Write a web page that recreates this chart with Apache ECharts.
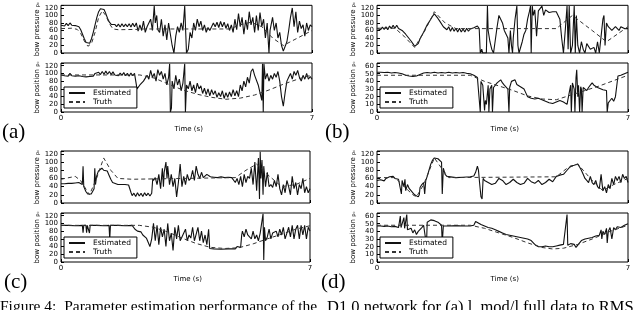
<!DOCTYPE html>
<html><head><meta charset="utf-8">
<script src="https://cdn.jsdelivr.net/npm/echarts@6/dist/echarts.min.js"></script>
<style>html,body{margin:0;padding:0;background:#fff}#c{width:640px;height:310px}</style>
</head><body><div id="c"></div>
<script>
// ---------- data: [time (s), value] ----------
const panelLabels = ['(a)', '(b)', '(c)', '(d)'];
const seriesNames = ['Estimated', 'Truth'];
const timeTicks = [0, 7];
const pressureTicks = [0, 20, 40, 60, 80, 100, 120];
const positionTicksWide = [0, 20, 40, 60, 80, 100, 120];
const positionTicksNarrow = [0, 10, 20, 30, 40, 50, 60];

// (a)
const aPress = [[0,74],[0.05,78],[0.1,72],[0.15,79],[0.2,73],[0.25,80],[0.3,74],[0.35,79],[0.4,73],[0.45,77],[0.5,70],[0.55,62],[0.6,50],[0.65,38],[0.7,28],[0.75,23],[0.8,26],[0.85,38],[0.9,55],[0.95,75],[1.0,95],[1.05,110],[1.1,118],[1.15,120],[1.2,116],[1.25,105],[1.3,92],[1.35,82],[1.4,76],[1.45,72],[1.5,76],[1.55,70],[1.6,77],[1.65,69],[1.7,78],[1.75,70],[1.8,77],[1.85,70],[1.9,78],[1.95,69],[2.0,79],[2.05,70],[2.1,80],[2.15,58],[2.2,75],[2.25,60],[2.3,85],[2.35,55],[2.4,70],[2.45,65],[2.5,90],[2.55,60],[2.6,125],[2.63,80],[2.67,100],[2.7,62],[2.75,55],[2.8,90],[2.85,45],[2.9,75],[2.95,35],[3.0,80],[3.05,50],[3.1,20],[3.15,0],[3.2,45],[3.25,70],[3.3,55],[3.35,80],[3.4,60],[3.45,125],[3.48,125],[3.5,0],[3.55,10],[3.6,55],[3.65,40],[3.7,80],[3.75,60],[3.8,90],[3.85,70],[3.9,85],[3.95,60],[4.0,75],[4.05,55],[4.1,68],[4.15,60],[4.2,70],[4.25,80],[4.3,70],[4.35,82],[4.4,68],[4.45,84],[4.5,70],[4.55,82],[4.6,66],[4.65,78],[4.7,60],[4.75,75],[4.8,55],[4.85,90],[4.9,62],[4.95,105],[5.0,70],[5.05,95],[5.1,50],[5.15,88],[5.2,62],[5.25,110],[5.3,75],[5.35,95],[5.4,55],[5.45,100],[5.5,60],[5.55,108],[5.6,70],[5.65,90],[5.7,40],[5.75,80],[5.8,0],[5.83,60],[5.9,95],[5.95,60],[6.0,80],[6.05,40],[6.1,55],[6.15,20],[6.2,5],[6.25,0],[6.3,30],[6.35,60],[6.4,95],[6.45,120],[6.5,70],[6.55,110],[6.6,55],[6.65,85],[6.7,65],[6.75,75],[6.8,45],[6.85,80],[6.9,60],[6.95,75],[7,70]];
const aPressTruth = [[0,65],[0.3,66],[0.45,63],[0.55,52],[0.65,32],[0.75,18],[0.85,25],[0.95,55],[1.05,95],[1.15,112],[1.25,100],[1.35,78],[1.45,64],[1.6,62],[2.2,63],[2.3,64],[4.7,64],[5.0,75],[5.3,82],[5.6,70],[5.9,40],[6.2,20],[6.5,35],[7,60]];
const aPos = [[0,96],[0.05,100],[0.1,94],[0.15,99],[0.2,93],[0.25,100],[0.3,94],[0.35,99],[0.4,93],[0.45,98],[0.5,94],[0.55,97],[0.6,92],[0.65,96],[0.7,91],[0.75,95],[0.8,92],[0.85,97],[0.9,93],[0.95,100],[1.0,95],[1.05,103],[1.1,97],[1.15,105],[1.2,98],[1.25,106],[1.3,98],[1.35,105],[1.4,97],[1.45,104],[1.5,96],[1.55,101],[1.6,94],[1.65,101],[1.7,95],[1.75,102],[1.8,94],[1.85,100],[1.9,93],[1.95,101],[2.0,94],[2.05,100],[2.1,95],[2.12,60],[2.2,70],[2.3,80],[2.35,75],[2.4,95],[2.45,85],[2.5,108],[2.55,90],[2.6,100],[2.65,80],[2.7,110],[2.75,95],[2.8,105],[2.85,85],[2.9,100],[2.95,70],[3.0,90],[3.03,125],[3.05,0],[3.08,10],[3.1,80],[3.15,60],[3.2,95],[3.25,70],[3.3,85],[3.35,55],[3.4,75],[3.45,125],[3.47,0],[3.5,70],[3.55,60],[3.6,80],[3.65,55],[3.7,70],[3.75,50],[3.8,75],[3.85,60],[3.9,68],[3.95,48],[4.0,62],[4.05,45],[4.1,60],[4.15,42],[4.2,58],[4.25,45],[4.3,55],[4.35,38],[4.4,50],[4.45,40],[4.5,55],[4.55,35],[4.6,50],[4.65,38],[4.7,52],[4.75,40],[4.8,58],[4.85,42],[4.9,55],[4.95,40],[5.0,70],[5.05,55],[5.1,80],[5.15,65],[5.2,90],[5.25,75],[5.3,105],[5.35,112],[5.4,95],[5.45,100],[5.5,70],[5.55,50],[5.6,30],[5.62,125],[5.64,0],[5.66,125],[5.7,85],[5.75,100],[5.8,80],[5.85,95],[5.9,85],[5.95,100],[6.0,90],[6.05,105],[6.1,80],[6.15,40],[6.2,15],[6.25,50],[6.3,80],[6.35,90],[6.4,100],[6.45,85],[6.5,105],[6.55,95],[6.6,108],[6.65,90],[6.7,80],[6.75,95],[6.8,85],[6.85,100],[6.9,85],[6.95,92],[7,85]];
const aPosTruth = [[0,96],[2.2,96],[2.6,88],[3.0,72],[3.4,57],[3.8,46],[4.2,38],[4.6,33],[5.0,36],[5.4,44],[5.8,57],[6.2,72],[6.6,85],[7,96]];

// (b)
const bPress = [[0,65],[0.05,70],[0.1,62],[0.15,69],[0.2,63],[0.25,70],[0.3,62],[0.35,72],[0.4,65],[0.45,74],[0.5,66],[0.55,74],[0.6,65],[0.65,70],[0.7,60],[0.75,58],[0.8,50],[0.85,45],[0.9,38],[0.95,32],[1.0,25],[1.05,18],[1.08,15],[1.15,25],[1.2,38],[1.3,55],[1.4,75],[1.5,90],[1.55,98],[1.6,104],[1.65,100],[1.7,92],[1.75,85],[1.8,80],[1.85,70],[1.9,75],[1.95,62],[2.0,70],[2.05,58],[2.1,68],[2.15,58],[2.2,66],[2.25,56],[2.3,66],[2.35,56],[2.4,64],[2.45,56],[2.5,66],[2.55,58],[2.6,64],[2.65,60],[2.7,67],[2.75,65],[2.8,72],[2.85,65],[2.88,0],[2.92,10],[2.95,0],[3.0,5],[3.05,0],[3.08,125],[3.1,60],[3.15,30],[3.2,10],[3.25,0],[3.3,5],[3.35,70],[3.4,100],[3.45,90],[3.5,80],[3.55,60],[3.6,62],[3.65,40],[3.68,0],[3.72,60],[3.75,20],[3.78,0],[3.8,40],[3.85,90],[3.9,125],[3.93,20],[3.96,0],[4.0,0],[4.05,30],[4.1,50],[4.15,60],[4.2,90],[4.25,110],[4.28,125],[4.3,0],[4.33,125],[4.36,100],[4.4,115],[4.45,45],[4.5,112],[4.55,108],[4.6,125],[4.65,100],[4.7,115],[4.75,110],[4.8,108],[4.85,106],[4.9,110],[4.95,105],[5.0,110],[5.05,100],[5.1,90],[5.15,40],[5.2,0],[5.25,60],[5.3,125],[5.33,10],[5.36,125],[5.4,0],[5.45,20],[5.5,125],[5.53,0],[5.56,100],[5.6,20],[5.65,0],[5.7,30],[5.75,10],[5.8,0],[5.85,25],[5.9,20],[5.95,10],[6.0,5],[6.05,15],[6.1,0],[6.15,30],[6.2,0],[6.25,45],[6.3,90],[6.33,100],[6.36,20],[6.4,80],[6.45,70],[6.5,65],[6.55,60],[6.6,55],[6.65,70],[6.7,75],[6.75,60],[6.8,70],[6.85,75],[6.9,65],[6.95,70],[7,65]];
const bPressTruth = [[0,66],[0.5,66],[0.75,45],[1.05,15],[1.35,62],[1.6,110],[1.9,80],[2.2,65],[5.0,65],[5.45,100],[6.0,60],[6.4,30],[6.7,50],[7,70]];
const bPos = [[0,52],[0.1,52],[0.2,51.5],[0.3,52],[0.4,51],[0.5,51.5],[0.6,51],[0.7,50],[0.8,48],[0.9,47],[1.0,46.5],[1.1,47],[1.2,49],[1.3,51],[1.4,51.5],[1.5,51],[1.6,52],[1.7,51],[1.8,51.5],[1.9,51],[2.0,52],[2.1,51],[2.2,51.5],[2.3,51],[2.4,51.5],[2.5,50.5],[2.6,50],[2.7,48],[2.8,45],[2.85,43],[2.88,0],[2.9,40],[2.95,35],[3.0,2],[3.02,15],[3.05,10],[3.1,35],[3.12,0],[3.15,30],[3.2,35],[3.22,0],[3.25,32],[3.3,35],[3.35,38],[3.4,40],[3.45,42],[3.5,38],[3.55,35],[3.6,33],[3.65,30],[3.68,0],[3.7,32],[3.75,40],[3.8,38],[3.85,42],[3.9,36],[3.95,38],[4.0,33],[4.05,35],[4.1,30],[4.15,25],[4.2,20],[4.3,18],[4.4,17],[4.5,18],[4.6,16],[4.7,14],[4.8,12],[4.9,11],[5.0,13],[5.1,15],[5.2,13],[5.3,10],[5.35,12],[5.4,35],[5.42,0],[5.45,38],[5.5,30],[5.52,0],[5.55,45],[5.57,55],[5.6,20],[5.62,35],[5.65,0],[5.68,33],[5.7,30],[5.72,0],[5.75,32],[5.8,30],[5.85,28],[5.9,32],[5.95,35],[6.0,38],[6.05,35],[6.1,34],[6.15,32],[6.2,30],[6.3,29],[6.4,28],[6.42,0],[6.45,12],[6.5,15],[6.55,18],[6.6,14],[6.65,20],[6.7,18],[6.72,47],[6.8,48],[6.9,50],[7,52]];
const bPosTruth = [[0,48],[2.6,48],[3.0,40],[3.4,34],[3.8,28],[4.2,21],[4.6,17],[5.0,16],[5.4,22],[5.8,28],[6.2,34],[6.6,41],[7,48]];

// (c)
const cPress = [[0,47],[0.1,47],[0.2,48],[0.3,48],[0.4,49],[0.5,50],[0.55,48],[0.6,45],[0.62,90],[0.64,40],[0.7,28],[0.75,22],[0.8,18],[0.85,22],[0.93,35],[0.95,85],[0.97,45],[1.0,65],[1.05,78],[1.1,82],[1.15,85],[1.2,80],[1.25,84],[1.3,78],[1.35,68],[1.4,58],[1.45,50],[1.5,46],[1.6,45],[1.7,45],[1.8,45],[1.9,44],[1.95,45],[1.97,25],[2.0,18],[2.05,24],[2.1,16],[2.15,25],[2.2,17],[2.25,24],[2.3,16],[2.35,25],[2.4,18],[2.45,24],[2.5,17],[2.55,24],[2.58,60],[2.6,55],[2.65,62],[2.7,45],[2.75,70],[2.8,35],[2.85,85],[2.88,40],[2.9,75],[2.95,100],[2.98,60],[3.0,90],[3.05,45],[3.1,70],[3.15,40],[3.2,60],[3.25,15],[3.3,50],[3.35,95],[3.4,40],[3.45,65],[3.5,45],[3.55,70],[3.6,55],[3.65,60],[3.7,80],[3.75,55],[3.8,90],[3.85,70],[3.9,60],[3.95,75],[4.0,62],[4.05,65],[4.1,70],[4.2,64],[4.3,63],[4.4,62],[4.5,64],[4.6,62],[4.7,63],[4.8,62],[4.85,65],[4.9,50],[4.95,60],[5.0,45],[5.05,65],[5.1,40],[5.15,70],[5.2,50],[5.25,65],[5.3,60],[5.35,85],[5.4,45],[5.45,100],[5.5,30],[5.55,110],[5.58,10],[5.6,125],[5.62,60],[5.65,105],[5.68,20],[5.7,90],[5.75,40],[5.8,75],[5.85,40],[5.9,45],[5.95,38],[6.0,55],[6.05,40],[6.1,70],[6.15,35],[6.2,20],[6.25,45],[6.3,25],[6.35,55],[6.4,40],[6.45,20],[6.5,65],[6.55,35],[6.6,50],[6.65,20],[6.7,45],[6.75,35],[6.8,60],[6.85,25],[6.9,40],[6.95,25],[7,35]];
const cPressTruth = [[0,58],[0.4,65],[0.55,55],[0.8,20],[1.0,60],[1.2,110],[1.4,80],[1.6,60],[2.0,58],[4.9,62],[5.2,80],[5.5,95],[5.8,70],[6.2,40],[6.6,45],[7,60]];
const cPos = [[0,95],[0.2,95],[0.4,94],[0.6,95],[0.62,76],[0.64,95],[0.7,95],[0.72,76],[0.74,95],[0.78,95],[0.8,75],[0.82,95],[1.0,95],[1.2,94],[1.35,95],[1.37,60],[1.39,95],[1.6,95],[1.8,94],[2.0,95],[2.05,94],[2.08,85],[2.1,82],[2.15,80],[2.2,75],[2.25,78],[2.3,70],[2.35,72],[2.4,62],[2.45,65],[2.5,40],[2.55,60],[2.6,100],[2.65,55],[2.7,95],[2.75,45],[2.8,90],[2.85,65],[2.9,85],[2.95,40],[3.0,100],[3.05,55],[3.1,75],[3.15,30],[3.2,90],[3.25,60],[3.3,95],[3.35,55],[3.4,65],[3.45,60],[3.5,85],[3.55,55],[3.6,70],[3.65,62],[3.7,90],[3.75,55],[3.8,60],[3.85,90],[3.9,55],[3.95,80],[4.0,50],[4.05,70],[4.1,45],[4.15,85],[4.18,35],[4.3,34],[4.5,33],[4.7,34],[4.9,34],[4.95,40],[5.0,42],[5.05,38],[5.08,70],[5.1,80],[5.15,65],[5.2,85],[5.25,70],[5.3,75],[5.35,60],[5.4,80],[5.45,60],[5.5,70],[5.55,55],[5.6,75],[5.68,125],[5.7,5],[5.72,90],[5.75,55],[5.8,65],[5.85,85],[5.9,60],[5.95,75],[6.0,70],[6.05,80],[6.1,65],[6.15,85],[6.2,70],[6.25,90],[6.3,60],[6.35,75],[6.4,90],[6.45,65],[6.5,95],[6.55,60],[6.6,85],[6.65,95],[6.7,60],[6.75,95],[6.8,70],[6.85,95],[6.9,60],[6.95,90],[7,80]];
const cPosTruth = [[0,95],[2.2,95],[2.6,90],[3.0,78],[3.4,62],[3.8,48],[4.2,38],[4.6,35],[5.0,37],[5.4,47],[5.8,60],[6.2,72],[6.6,85],[7,94]];

// (d)
const dPress = [[0,55],[0.1,57],[0.2,54],[0.25,60],[0.3,58],[0.35,64],[0.4,62],[0.45,65],[0.5,60],[0.55,62],[0.6,58],[0.65,60],[0.68,22],[0.7,55],[0.75,40],[0.78,58],[0.8,30],[0.85,45],[0.9,35],[0.95,30],[1.0,25],[1.05,20],[1.1,16],[1.15,15],[1.18,20],[1.2,38],[1.25,45],[1.3,50],[1.33,22],[1.36,55],[1.4,65],[1.45,80],[1.5,95],[1.55,105],[1.6,110],[1.65,110],[1.7,108],[1.75,105],[1.8,100],[1.82,22],[1.85,85],[1.9,70],[1.95,65],[2.0,62],[2.2,62],[2.4,63],[2.6,64],[2.7,66],[2.75,75],[2.8,90],[2.83,80],[2.86,50],[2.9,15],[2.93,10],[2.96,60],[3.0,55],[3.1,50],[3.2,45],[3.3,48],[3.4,60],[3.5,55],[3.6,45],[3.7,50],[3.8,58],[3.9,50],[4.0,45],[4.1,48],[4.2,60],[4.3,52],[4.4,48],[4.5,55],[4.6,45],[4.7,50],[4.8,58],[4.9,52],[5.0,65],[5.1,68],[5.2,70],[5.3,80],[5.4,90],[5.5,92],[5.6,95],[5.65,88],[5.7,80],[5.75,70],[5.8,60],[5.85,55],[5.9,50],[5.95,65],[6.0,50],[6.05,45],[6.1,55],[6.15,40],[6.2,35],[6.25,70],[6.28,45],[6.3,30],[6.35,40],[6.4,25],[6.45,45],[6.5,35],[6.55,60],[6.6,45],[6.65,65],[6.7,55],[6.75,65],[6.8,50],[6.85,70],[6.9,60],[6.95,65],[7,50]];
const dPressTruth = [[0,62],[0.5,62],[0.7,45],[1.0,20],[1.1,15],[1.3,45],[1.6,110],[1.8,85],[2.0,62],[5.0,64],[5.3,85],[5.6,95],[6.0,55],[6.3,30],[6.6,45],[7,60]];
const dPos = [[0,47],[0.1,47],[0.2,46.5],[0.3,47],[0.4,46],[0.5,46.5],[0.6,45],[0.65,60],[0.67,45],[0.7,44],[0.75,58],[0.77,44],[0.8,43],[0.83,62],[0.85,42],[0.9,40],[0.95,44],[1.0,38],[1.05,42],[1.1,36],[1.15,40],[1.2,42],[1.25,45],[1.3,48],[1.35,50],[1.38,22],[1.4,52],[1.45,54],[1.5,55],[1.55,54.5],[1.6,54],[1.65,53],[1.7,52],[1.75,50],[1.8,48],[1.82,25],[1.85,47],[1.9,47],[2.0,47],[2.2,47.5],[2.4,47],[2.6,47],[2.7,48],[2.75,53],[2.8,52],[2.9,49],[3.0,47],[3.1,45],[3.2,44],[3.3,42],[3.4,40],[3.5,38],[3.6,36],[3.7,35],[3.8,34],[3.9,33],[4.0,32],[4.1,31],[4.2,30],[4.3,28],[4.4,23],[4.5,20],[4.6,20],[4.7,21],[4.8,20],[4.9,20],[5.0,21],[5.1,22],[5.2,23],[5.25,22],[5.3,62],[5.32,22],[5.4,24],[5.5,23],[5.55,19],[5.6,22],[5.7,28],[5.8,30],[5.9,31],[6.0,32],[6.1,34],[6.2,35],[6.25,42],[6.27,30],[6.3,40],[6.35,36],[6.4,44],[6.42,25],[6.45,40],[6.5,45],[6.55,30],[6.6,45],[6.65,42],[6.7,46],[6.8,45],[6.9,48],[7,50]];
const dPosTruth = [[0,48],[2.6,48],[3.0,44],[3.4,38],[3.8,32],[4.2,25],[4.6,19],[4.9,17],[5.2,18],[5.6,23],[6.0,30],[6.5,40],[7,48]];

const captionLeft = 'Figure 4:  Parameter estimation performance of the';
const captionRight = 'D1.0 network for (a) l_mod/l full data to RMS';

// ---------- layout ----------
const panels = [
  {label: panelLabels[0], left: 61, width: 251, top: 1, est: [aPress, aPos], tru: [aPressTruth, aPosTruth], posMax: 127, posInt: 20, labelPos: [2, 122]},
  {label: panelLabels[1], left: 377, width: 251, top: 1, est: [bPress, bPos], tru: [bPressTruth, bPosTruth], posMax: 64, posInt: 10, labelPos: [325, 122]},
  {label: panelLabels[2], left: 61, width: 249, top: 151, est: [cPress, cPos], tru: [cPressTruth, cPosTruth], posMax: 127, posInt: 20, labelPos: [4, 272]},
  {label: panelLabels[3], left: 377, width: 251, top: 151, est: [dPress, dPos], tru: [dPressTruth, dPosTruth], posMax: 64, posInt: 10, labelPos: [321, 272]}
];

const FONT = 'DejaVu Sans';
const grid = [], xAxis = [], yAxis = [], series = [], legend = [], graphic = [];
panels.forEach((p, pi) => {
  const rows = [
    {top: p.top, height: 52, max: 127, interval: 20, name: 'bow pressure'},
    {top: p.top + 62, height: 49, max: p.posMax, interval: p.posInt, name: 'bow position'}
  ];
  rows.forEach((r, ri) => {
    const gi = grid.length;
    grid.push({left: p.left, top: r.top, width: p.width, height: r.height, show: true, borderColor: '#000', borderWidth: 1, backgroundColor: '#fff'});
    xAxis.push({type: 'value', gridIndex: gi, min: timeTicks[0], max: timeTicks[1], interval: timeTicks[1],
      axisLine: {show: false}, splitLine: {show: false},
      axisTick: {show: true, inside: true, length: 3, lineStyle: {color: '#000'}},
      axisLabel: {show: ri === 1, fontSize: 7, color: '#000', margin: 3, fontFamily: FONT}});
    yAxis.push({type: 'value', gridIndex: gi, min: 0, max: r.max, interval: r.interval,
      name: r.name + ' {s|p\u2080}', nameLocation: 'middle', nameGap: 20, nameRotate: 90,
      nameTextStyle: {fontSize: 7, color: '#000', fontFamily: FONT, rich: {s: {fontSize: 5, color: '#000'}}},
      axisLine: {show: false}, splitLine: {show: false},
      axisTick: {show: true, inside: true, length: 3, lineStyle: {color: '#000'}},
      axisLabel: {fontSize: 7, color: '#000', margin: 3, fontFamily: FONT,
        formatter: v => (v % r.interval === 0 ? String(v) : '')}});
    series.push({type: 'line', name: seriesNames[0], xAxisIndex: gi, yAxisIndex: gi, data: p.est[ri],
      showSymbol: false, symbol: 'none', lineStyle: {color: '#111', width: 1.1}, itemStyle: {color: '#111'}, animation: false, z: 2});
    series.push({type: 'line', name: seriesNames[1], xAxisIndex: gi, yAxisIndex: gi, data: p.tru[ri],
      showSymbol: false, symbol: 'none', lineStyle: {color: '#333', width: 1, type: [4, 3]}, itemStyle: {color: '#333'}, animation: false, z: 3});
  });
  legend.push({data: seriesNames, orient: 'vertical', left: p.left + 3, top: p.top + 62 + 24,
    itemWidth: 16, itemHeight: 8, itemGap: 1, padding: [2, 6, 2, 4], borderColor: '#000', borderWidth: 1,
    backgroundColor: '#fff', selectedMode: false, itemStyle: {opacity: 0},
    textStyle: {fontSize: 7.5, color: '#000', fontFamily: FONT, padding: [0, 0, 0, 3]}});
  graphic.push({type: 'text', left: p.left + p.width / 2 - 12, top: p.top + 125,
    style: {text: 'Time (s)', fontSize: 7, fill: '#000', fontFamily: FONT}});
  graphic.push({type: 'text', left: p.labelPos[0], top: p.labelPos[1],
    style: {text: p.label, fontSize: 21, fill: '#000', fontFamily: 'Liberation Serif'}});
});
graphic.push({type: 'text', left: 0, top: 299, style: {text: captionLeft, fontSize: 15.5, fill: '#000', fontFamily: 'Liberation Serif'}});
graphic.push({type: 'text', left: 327, top: 299, style: {text: captionRight, fontSize: 16.5, fill: '#000', fontFamily: 'Liberation Serif'}});

const chart = echarts.init(document.getElementById('c'), null, {renderer: 'canvas'});
chart.setOption({animation: false, backgroundColor: '#fff', grid, xAxis, yAxis, series, legend, graphic});
</script></body></html>
